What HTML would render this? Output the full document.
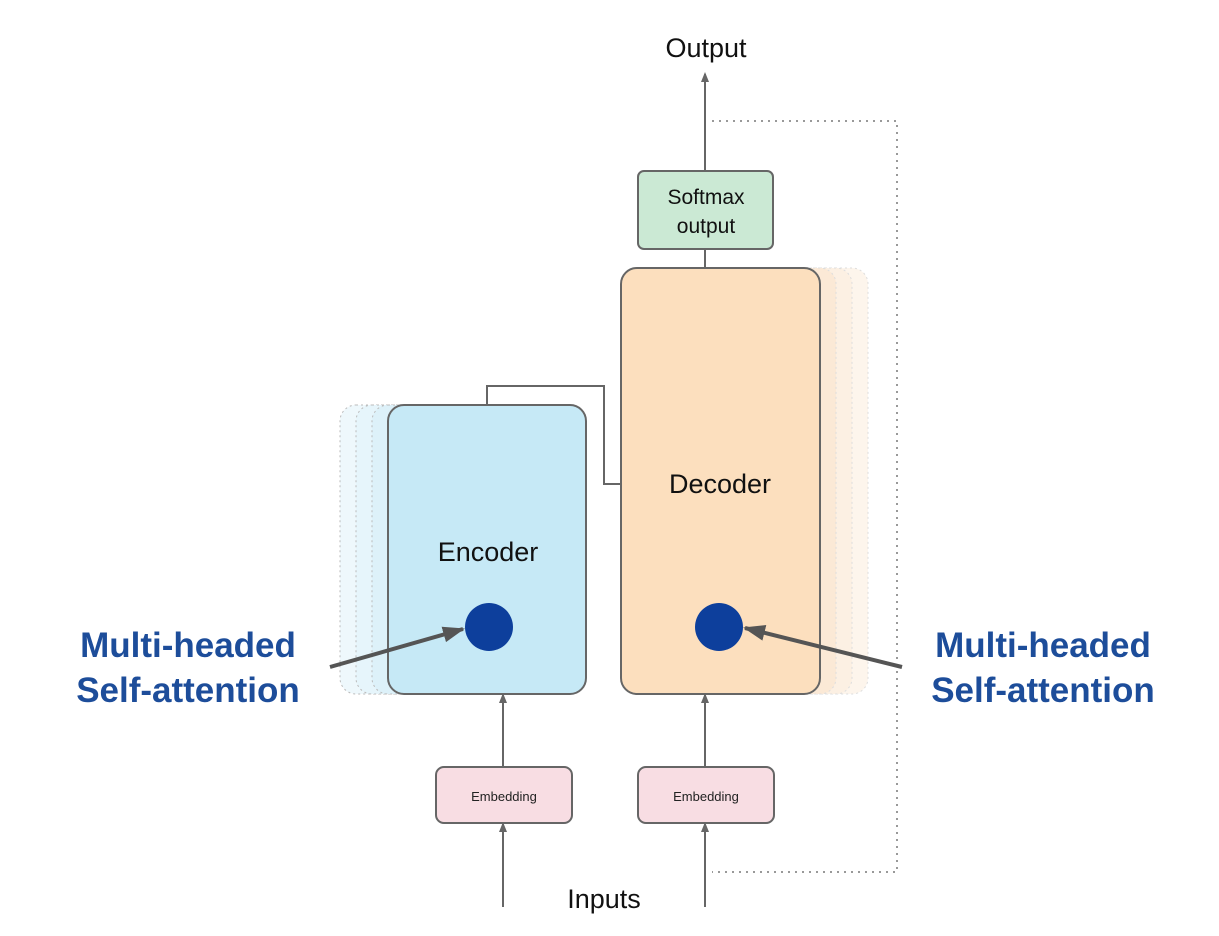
<!DOCTYPE html>
<html><head><style>
body{margin:0;background:#fff;}
svg{display:block}
text{font-family:"Liberation Sans",sans-serif;}
</style></head><body>
<svg width="1219" height="936" viewBox="0 0 1219 936" xmlns="http://www.w3.org/2000/svg">
<defs>
<marker id="ah" markerWidth="10" markerHeight="10" refX="8" refY="5" orient="auto" markerUnits="userSpaceOnUse">
<path d="M0,1 L10,5 L0,9 Z" fill="#666"/></marker>
<marker id="ahb" markerWidth="22" markerHeight="18" refX="20" refY="9" orient="auto" markerUnits="userSpaceOnUse">
<path d="M0,1 L22,9 L0,17 Z" fill="#555"/></marker>
</defs>
<path d="M712,121 H897 V872 H712" fill="none" stroke="#999" stroke-width="2" stroke-dasharray="2,5"/>
<rect x="340" y="405" width="198" height="289" rx="16" fill="#eef8fc" stroke="#bbb" stroke-dasharray="2,3"/>
<rect x="356" y="405" width="198" height="289" rx="16" fill="#e6f5fb" stroke="#bbb" stroke-dasharray="2,3"/>
<rect x="372" y="405" width="198" height="289" rx="16" fill="#ddf1f9" stroke="#bbb" stroke-dasharray="2,3"/>
<rect x="669" y="268" width="199" height="426" rx="16" fill="#fdf5ec" stroke="#ddd" stroke-dasharray="2,3"/>
<rect x="653" y="268" width="199" height="426" rx="16" fill="#fcf0e3" stroke="#ddd" stroke-dasharray="2,3"/>
<rect x="637" y="268" width="199" height="426" rx="16" fill="#fbe9d6" stroke="#ddd" stroke-dasharray="2,3"/>
<path d="M487,405 V386 H604 V484 H621" fill="none" stroke="#666" stroke-width="2"/>
<rect x="388" y="405" width="198" height="289" rx="16" fill="#c6e9f6" stroke="#666" stroke-width="2"/>
<text x="488" y="561" font-size="27" text-anchor="middle" fill="#111">Encoder</text>
<rect x="621" y="268" width="199" height="426" rx="16" fill="#fcdfbe" stroke="#666" stroke-width="2"/>
<text x="720" y="493" font-size="27" text-anchor="middle" fill="#111">Decoder</text>
<line x1="705" y1="268" x2="705" y2="249" stroke="#666" stroke-width="2"/>
<rect x="638" y="171" width="135" height="78" rx="6" fill="#cbe9d4" stroke="#666" stroke-width="2"/>
<text x="706" y="204" font-size="21" text-anchor="middle" fill="#111">Softmax</text>
<text x="706" y="233" font-size="21" text-anchor="middle" fill="#111">output</text>
<line x1="705" y1="171" x2="705" y2="74" stroke="#666" stroke-width="2" marker-end="url(#ah)"/>
<text x="706" y="57" font-size="27" text-anchor="middle" fill="#111">Output</text>
<rect x="436" y="767" width="136" height="56" rx="8" fill="#f8dde3" stroke="#666" stroke-width="2"/>
<text x="504" y="801" font-size="13" text-anchor="middle" fill="#222">Embedding</text>
<rect x="638" y="767" width="136" height="56" rx="8" fill="#f8dde3" stroke="#666" stroke-width="2"/>
<text x="706" y="801" font-size="13" text-anchor="middle" fill="#222">Embedding</text>
<line x1="503" y1="767" x2="503" y2="695" stroke="#666" stroke-width="2" marker-end="url(#ah)"/>
<line x1="705" y1="767" x2="705" y2="695" stroke="#666" stroke-width="2" marker-end="url(#ah)"/>
<line x1="503" y1="907" x2="503" y2="824" stroke="#666" stroke-width="2" marker-end="url(#ah)"/>
<line x1="705" y1="907" x2="705" y2="824" stroke="#666" stroke-width="2" marker-end="url(#ah)"/>
<text x="604" y="908" font-size="27" text-anchor="middle" fill="#111">Inputs</text>
<circle cx="489" cy="627" r="24" fill="#0d3f9c"/>
<circle cx="719" cy="627" r="24" fill="#0d3f9c"/>
<line x1="330" y1="667" x2="463" y2="629" stroke="#555" stroke-width="4" marker-end="url(#ahb)"/>
<line x1="902" y1="667" x2="745" y2="628" stroke="#555" stroke-width="4" marker-end="url(#ahb)"/>
<g font-weight="bold" font-size="35" fill="#1d4d9a">
<text x="188" y="657" text-anchor="middle">Multi-headed</text>
<text x="188" y="702" text-anchor="middle">Self-attention</text>
<text x="1043" y="657" text-anchor="middle">Multi-headed</text>
<text x="1043" y="702" text-anchor="middle">Self-attention</text>
</g>
</svg>
</body></html>
